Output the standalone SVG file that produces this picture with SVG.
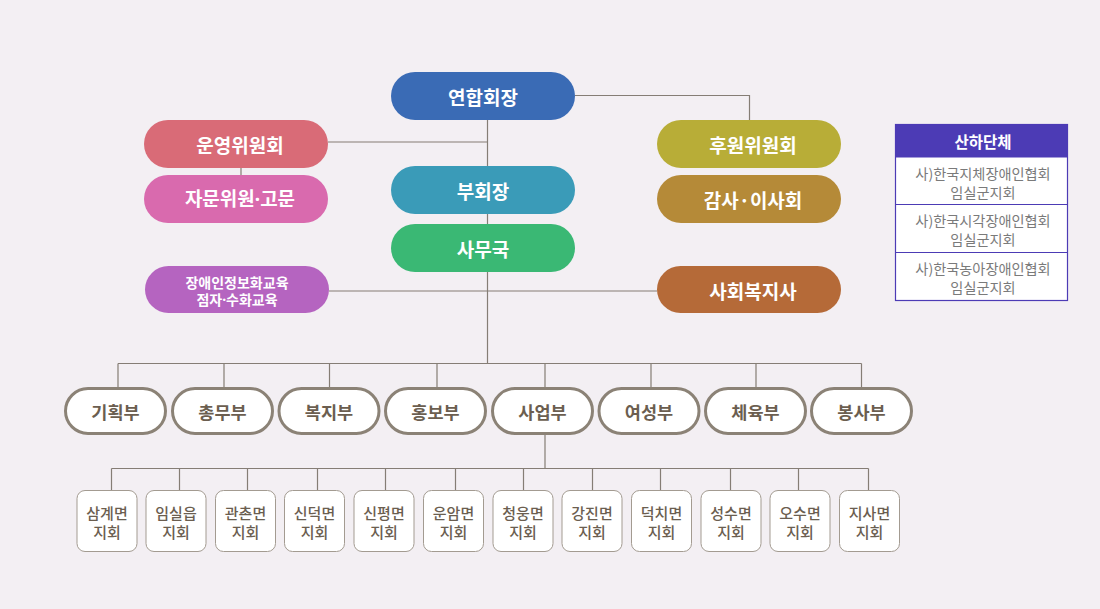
<svg xmlns="http://www.w3.org/2000/svg" width="1100" height="609" viewBox="0 0 1100 609">
<style>
.t{font-family:"Noto Sans CJK KR","Noto Sans",sans-serif;text-anchor:middle;dominant-baseline:central}
.n{font-family:"Noto Sans","Noto Sans CJK KR",sans-serif}
.w{fill:#fff;font-weight:bold;font-size:19px}
.s{font-size:14px}
.d{fill:#fff;stroke:#8b8276;stroke-width:3}
.dt{fill:#6b5e50;font-weight:bold;font-size:17.5px}
.b{fill:#fff;stroke:#a39b91;stroke-width:1}
.bt{fill:#6b5e50;font-size:15px;font-weight:500}
.ln{stroke:#857d75;stroke-width:1.2;fill:none}
.st{fill:#7a7a7a;font-size:14.2px}
</style>
<rect width="1100" height="609" fill="#f3eff3"/>
<g id="connectors" class="ln">
<path d="M487.5 120V363.5M328 142H487.5M241 168V175M329 291H657M575 95.5H749.5V120"/>
<path d="M118 363.5H861.5M118 363.5V388M224 363.5V388M329.5 363.5V388M437 363.5V388M545 363.5V388M651 363.5V388M756 363.5V388M861.5 363.5V388"/>
<path d="M545 434V468.5M111.5 468.5H868.5M111.5 468.5V490M179.5 468.5V490M247.5 468.5V490M317.5 468.5V490M385.5 468.5V490M455.5 468.5V490M523.5 468.5V490M592.5 468.5V490M660.5 468.5V490M730.5 468.5V490M798.5 468.5V490M868.5 468.5V490"/>
</g>
<g id="n-chair"><rect x="391" y="72" width="184" height="48" rx="24" fill="#3a6bb5"/><text class="t w" x="483" y="96">연합회장</text></g>
<g id="n-steering"><rect x="144" y="120" width="184" height="48" rx="24" fill="#d96b77"/><text class="t w" x="240" y="144">운영위원회</text></g>
<g id="n-advisor"><rect x="144" y="175" width="184" height="48" rx="24" fill="#d96aae"/><text class="t n w" x="240" y="199">자문위원·고문</text></g>
<g id="n-vice"><rect x="391" y="166" width="184" height="48" rx="24" fill="#3a9bb8"/><text class="t w" x="483" y="190">부회장</text></g>
<g id="n-office"><rect x="391" y="224" width="184" height="48" rx="24" fill="#3ab874"/><text class="t w" x="483" y="248">사무국</text></g>
<g id="n-edu"><rect x="145" y="266" width="184" height="47" rx="23.5" fill="#b564c0"/><text class="t w s" x="237" y="281.5">장애인정보화교육</text><text class="t n w s" x="237" y="299">점자·수화교육</text></g>
<g id="n-support"><rect x="657" y="120" width="184" height="48" rx="24" fill="#b8ad37"/><text class="t w" x="753" y="144">후원위원회</text></g>
<g id="n-audit"><rect x="657" y="175" width="184" height="48" rx="24" fill="#b58a38"/><text class="t w" x="753" y="199">감사·이사회</text></g>
<g id="n-social"><rect x="657" y="266" width="184" height="47" rx="23.5" fill="#b56a38"/><text class="t w" x="753" y="290">사회복지사</text></g>
<g id="n-affiliates">
<rect x="895.5" y="124.5" width="172" height="176" fill="#fff" stroke="#4c3bb5" stroke-width="1.2"/>
<rect x="895.5" y="124.5" width="172" height="33" fill="#4c3bb5"/>
<path d="M895.5 204.5H1067.5M895.5 252.5H1067.5" stroke="#4c3bb5" stroke-width="1.2"/>
<text class="t" x="983" y="141" style="fill:#fff;font-weight:bold;font-size:15.5px">산하단체</text>
<text class="t st" x="983" y="172.5">사)한국지체장애인협회</text><text class="t st" x="983" y="191.5">임실군지회</text>
<text class="t st" x="983" y="219.5">사)한국시각장애인협회</text><text class="t st" x="983" y="238.5">임실군지회</text>
<text class="t st" x="983" y="267.5">사)한국농아장애인협회</text><text class="t st" x="983" y="286.5">임실군지회</text>
</g>
<g id="n-dept1"><rect class="d" x="65.5" y="388.5" width="100" height="45" rx="22.5"/><text class="t dt" x="115.5" y="411">기획부</text></g>
<g id="n-dept2"><rect class="d" x="172.5" y="388.5" width="100" height="45" rx="22.5"/><text class="t dt" x="222.5" y="411">총무부</text></g>
<g id="n-dept3"><rect class="d" x="279" y="388.5" width="100" height="45" rx="22.5"/><text class="t dt" x="329" y="411">복지부</text></g>
<g id="n-dept4"><rect class="d" x="385.5" y="388.5" width="100" height="45" rx="22.5"/><text class="t dt" x="435.5" y="411">홍보부</text></g>
<g id="n-dept5"><rect class="d" x="492.5" y="388.5" width="100" height="45" rx="22.5"/><text class="t dt" x="542.5" y="411">사업부</text></g>
<g id="n-dept6"><rect class="d" x="599" y="388.5" width="100" height="45" rx="22.5"/><text class="t dt" x="649" y="411">여성부</text></g>
<g id="n-dept7"><rect class="d" x="705.5" y="388.5" width="100" height="45" rx="22.5"/><text class="t dt" x="755.5" y="411">체육부</text></g>
<g id="n-dept8"><rect class="d" x="811.5" y="388.5" width="100" height="45" rx="22.5"/><text class="t dt" x="861.5" y="411">봉사부</text></g>
<g id="n-br1"><rect class="b" x="77" y="490.5" width="60" height="61" rx="8"/><text class="t bt" x="107" y="512">삼계면</text><text class="t bt" x="107" y="531">지회</text></g>
<g id="n-br2"><rect class="b" x="146" y="490.5" width="60" height="61" rx="8"/><text class="t bt" x="176" y="512">임실읍</text><text class="t bt" x="176" y="531">지회</text></g>
<g id="n-br3"><rect class="b" x="215.5" y="490.5" width="60" height="61" rx="8"/><text class="t bt" x="245.5" y="512">관촌면</text><text class="t bt" x="245.5" y="531">지회</text></g>
<g id="n-br4"><rect class="b" x="284.5" y="490.5" width="60" height="61" rx="8"/><text class="t bt" x="314.5" y="512">신덕면</text><text class="t bt" x="314.5" y="531">지회</text></g>
<g id="n-br5"><rect class="b" x="354" y="490.5" width="60" height="61" rx="8"/><text class="t bt" x="384" y="512">신평면</text><text class="t bt" x="384" y="531">지회</text></g>
<g id="n-br6"><rect class="b" x="423.5" y="490.5" width="60" height="61" rx="8"/><text class="t bt" x="453.5" y="512">운암면</text><text class="t bt" x="453.5" y="531">지회</text></g>
<g id="n-br7"><rect class="b" x="493" y="490.5" width="60" height="61" rx="8"/><text class="t bt" x="523" y="512">청웅면</text><text class="t bt" x="523" y="531">지회</text></g>
<g id="n-br8"><rect class="b" x="562" y="490.5" width="60" height="61" rx="8"/><text class="t bt" x="592" y="512">강진면</text><text class="t bt" x="592" y="531">지회</text></g>
<g id="n-br9"><rect class="b" x="631.5" y="490.5" width="60" height="61" rx="8"/><text class="t bt" x="661.5" y="512">덕치면</text><text class="t bt" x="661.5" y="531">지회</text></g>
<g id="n-br10"><rect class="b" x="701" y="490.5" width="60" height="61" rx="8"/><text class="t bt" x="731" y="512">성수면</text><text class="t bt" x="731" y="531">지회</text></g>
<g id="n-br11"><rect class="b" x="770" y="490.5" width="60" height="61" rx="8"/><text class="t bt" x="800" y="512">오수면</text><text class="t bt" x="800" y="531">지회</text></g>
<g id="n-br12"><rect class="b" x="839.5" y="490.5" width="60" height="61" rx="8"/><text class="t bt" x="869.5" y="512">지사면</text><text class="t bt" x="869.5" y="531">지회</text></g>
</svg>
